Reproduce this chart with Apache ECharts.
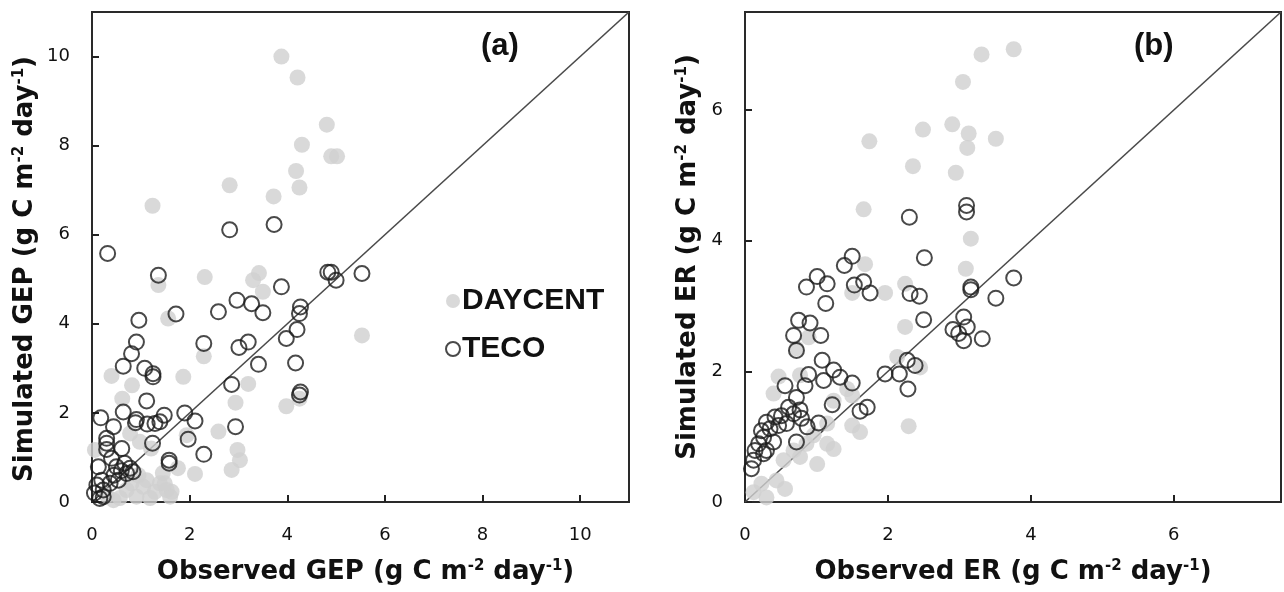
<!DOCTYPE html>
<html>
<head>
<meta charset="utf-8">
<script src="https://cdn.jsdelivr.net/npm/echarts@6/dist/echarts.min.js"></script>
<style>
  html, body { margin: 0; padding: 0; background: #fff; }
  #chart { width: 1284px; height: 592px; }
</style>
</head>
<body>
<div id="chart"></div>
<script>
// Panel (a): gross ecosystem production, observed vs simulated [obs, sim]
const gepDaycent = [
  [3.88,10.0],[4.21,9.53],[4.81,8.47],[4.30,8.02],[4.90,7.76],[5.02,7.76],[4.18,7.43],[4.25,7.06],
  [2.82,7.11],[3.72,6.86],[1.24,6.65],[2.31,5.05],[3.42,5.14],[3.30,4.98],[3.50,4.72],[1.36,4.87],
  [1.56,4.12],[2.29,3.27],[0.40,2.83],[1.87,2.81],[0.82,2.62],[3.20,2.65],[0.62,2.32],[2.94,2.23],
  [3.98,2.15],[4.25,2.32],[2.59,1.58],[2.98,1.17],[3.03,0.94],[2.86,0.72],[2.11,0.63],[1.76,0.76],
  [1.94,1.50],[1.21,1.20],[0.78,1.54],[0.98,1.35],[0.06,1.17],[5.53,3.74],[1.12,0.49],[1.39,0.42],
  [1.53,0.27],[1.60,0.12],[0.71,0.27],[0.91,0.12],[1.19,0.09],[0.57,0.09],[1.05,0.34],[1.29,0.23],
  [0.81,0.42],[0.44,0.04],[0.30,0.15],[0.95,0.60],[1.45,0.65],[1.63,0.23],[1.49,0.42]
];
const gepTeco = [
  [0.32,5.58],[2.82,6.11],[3.73,6.23],[1.36,5.09],[0.96,4.08],[1.72,4.22],[2.59,4.27],[2.97,4.53],
  [3.27,4.45],[3.50,4.25],[3.88,4.83],[4.83,5.16],[4.90,5.16],[5.00,4.98],[5.53,5.13],[4.27,4.38],
  [4.25,4.23],[4.20,3.87],[3.98,3.67],[4.17,3.12],[4.27,2.47],[4.25,2.40],[2.29,3.56],[3.01,3.47],
  [3.20,3.59],[3.41,3.09],[2.86,2.64],[1.90,2.00],[2.11,1.82],[2.94,1.69],[1.97,1.41],[2.29,1.07],
  [1.58,0.94],[1.58,0.87],[1.24,1.32],[1.48,1.95],[1.39,1.80],[1.29,1.76],[1.13,1.75],[0.91,1.85],
  [0.89,1.78],[0.64,2.02],[0.18,1.89],[1.12,2.27],[1.08,3.00],[1.25,2.88],[1.25,2.81],[0.64,3.05],
  [0.81,3.33],[0.91,3.59],[0.44,1.69],[0.30,1.43],[0.30,1.32],[0.30,1.18],[0.61,1.20],[0.13,0.79],
  [0.40,0.98],[0.50,0.79],[0.67,0.87],[0.78,0.76],[0.84,0.68],[0.71,0.64],[0.20,0.49],[0.37,0.42],
  [0.54,0.49],[0.10,0.38],[0.23,0.27],[0.16,0.08],[0.23,0.12],[0.05,0.20],[0.60,0.70],[0.45,0.60]
];

// Panel (b): ecosystem respiration, observed vs simulated [obs, sim]
const erDaycent = [
  [3.31,6.85],[3.05,6.43],[2.90,5.78],[3.13,5.64],[3.51,5.56],[2.49,5.70],[1.74,5.52],[3.11,5.42],
  [2.35,5.14],[2.95,5.04],[1.66,4.48],[3.16,4.03],[3.76,6.93],[1.68,3.64],[2.24,3.34],[1.96,3.20],
  [1.50,3.20],[3.09,3.57],[2.24,2.68],[0.89,2.52],[0.72,2.35],[2.13,2.22],[2.45,2.06],[0.47,1.92],
  [0.40,1.66],[0.77,1.94],[1.43,1.73],[1.50,1.63],[1.24,1.55],[2.29,1.16],[1.50,1.17],[1.61,1.07],
  [1.15,1.20],[0.96,1.02],[1.15,0.89],[1.24,0.81],[1.01,0.58],[0.77,0.69],[0.54,0.64],[0.44,0.33],
  [0.56,0.20],[0.23,0.28],[0.12,0.15],[0.30,0.07],[0.68,0.79],[0.86,0.89]
];
const erTeco = [
  [3.10,4.54],[3.10,4.44],[2.30,4.36],[1.50,3.76],[1.39,3.62],[2.51,3.74],[1.01,3.45],[1.15,3.34],
  [0.86,3.29],[1.13,3.04],[1.53,3.32],[1.66,3.37],[1.75,3.20],[2.31,3.19],[2.44,3.15],[3.16,3.29],
  [3.16,3.25],[3.51,3.12],[3.76,3.43],[2.50,2.79],[0.75,2.78],[0.91,2.74],[0.68,2.55],[1.06,2.55],
  [0.72,2.32],[2.91,2.64],[3.06,2.83],[3.11,2.68],[3.06,2.47],[3.32,2.50],[2.99,2.58],[1.08,2.17],
  [1.24,2.02],[1.33,1.91],[1.50,1.82],[1.10,1.86],[0.89,1.95],[0.84,1.78],[0.56,1.78],[1.96,1.96],
  [2.16,1.96],[2.27,2.17],[2.38,2.09],[2.28,1.73],[1.22,1.49],[1.61,1.39],[1.71,1.45],[0.72,1.60],
  [0.77,1.41],[0.61,1.45],[1.03,1.21],[0.87,1.15],[0.72,0.92],[0.51,1.32],[0.42,1.30],[0.30,1.22],
  [0.35,1.12],[0.47,1.17],[0.58,1.20],[0.23,1.09],[0.26,0.99],[0.40,0.92],[0.19,0.89],[0.30,0.79],
  [0.14,0.79],[0.12,0.64],[0.09,0.51],[0.26,0.74],[0.68,1.35],[0.79,1.28]
];

// Axis ranges and tick values
const gepMax = 11;
const erMax = 7.5;
const gepTicks = [0, 2, 4, 6, 8, 10];
const erTicks = [0, 2, 4, 6];

// 1:1 reference lines
const oneToOneA = [[0, 0], [gepMax, gepMax]];
const oneToOneB = [[0, 0], [erMax, erMax]];

const LABEL_FONT = '"Liberation Sans", Arial, sans-serif';
const TITLE_FONT = '"DejaVu Sans", sans-serif';
const TICK_FONT = '"DejaVu Sans", sans-serif';

function titleStyle(padding) {
  return {
    fontFamily: TITLE_FONT, fontWeight: 'bold', fontSize: 26, color: '#111', lineHeight: 30,
    padding: padding,
    rich: {
      sup: { fontFamily: TITLE_FONT, fontWeight: 'bold', fontSize: 15, color: '#111', lineHeight: 30, verticalAlign: 'top', padding: [2, 0, 0, 0] }
    }
  };
}

function valueAxis(gridIndex, max, ticks, name, gap, isY, margin, namePad) {
  return {
    type: 'value', gridIndex: gridIndex, min: 0, max: max,
    name: name, nameLocation: 'middle', nameGap: gap,
    nameRotate: isY ? 90 : 0,
    nameTextStyle: titleStyle(namePad),
    axisLine: { show: false },
    axisTick: { show: true, inside: true, length: 7, lineStyle: { color: '#222', width: 2 }, customValues: ticks },
    axisLabel: { show: true, margin: margin, fontFamily: TICK_FONT, fontSize: 18, color: '#111', customValues: ticks },
    splitLine: { show: false }
  };
}

const daycentStyle = { color: '#cfcfcf' };
const tecoStyle = { color: 'rgba(0,0,0,0)', borderColor: '#1c1c1c', borderWidth: 2 };

const chart = echarts.init(document.getElementById('chart'), null, { renderer: 'canvas' });
chart.setOption({
  backgroundColor: '#ffffff',
  animation: false,
  grid: [
    { left: 92, top: 12, width: 537, height: 490, show: true, borderColor: '#2a2a2a', borderWidth: 2, backgroundColor: 'transparent', outerBoundsMode: 'none' },
    { left: 745, top: 12, width: 536, height: 490, show: true, borderColor: '#2a2a2a', borderWidth: 2, backgroundColor: 'transparent', outerBoundsMode: 'none' }
  ],
  xAxis: [
    valueAxis(0, gepMax, gepTicks, 'Observed GEP (g C m{sup|-2} day{sup|-1})', 55, false, 24, [0, 0, 0, 10]),
    valueAxis(1, erMax, erTicks, 'Observed ER (g C m{sup|-2} day{sup|-1})', 55, false, 24, 0)
  ],
  yAxis: [
    valueAxis(0, gepMax, gepTicks, 'Simulated GEP (g C m{sup|-2} day{sup|-1})', 52, true, 22, [0, 24, 0, 0]),
    valueAxis(1, erMax, erTicks, 'Simulated ER (g C m{sup|-2} day{sup|-1})', 42, true, 22, 0)
  ],
  legend: {
    data: ['DAYCENT', 'TECO'],
    orient: 'vertical', left: 440, top: 281,
    itemWidth: 14, itemHeight: 14, itemGap: 18,
    selectedMode: false,
    textStyle: { fontFamily: LABEL_FONT, fontWeight: 'bold', fontSize: 30, color: '#111', lineHeight: 30, padding: [0, 0, 0, -3] }
  },
  graphic: [
    { type: 'text', left: 481, top: 31, style: { text: '(a)', fontFamily: LABEL_FONT, fontWeight: 'bold', fontSize: 31, fill: '#111' } },
    { type: 'text', left: 1134, top: 31, style: { text: '(b)', fontFamily: LABEL_FONT, fontWeight: 'bold', fontSize: 31, fill: '#111' } }
  ],
  series: [
    { type: 'line', xAxisIndex: 0, yAxisIndex: 0, data: oneToOneA, symbol: 'none', silent: true,
      lineStyle: { color: '#4a4a4a', width: 1.6 }, z: 1 },
    { type: 'line', xAxisIndex: 1, yAxisIndex: 1, data: oneToOneB, symbol: 'none', silent: true,
      lineStyle: { color: '#4a4a4a', width: 1.6 }, z: 1 },
    { name: 'DAYCENT', type: 'scatter', xAxisIndex: 0, yAxisIndex: 0, data: gepDaycent,
      symbol: 'circle', symbolSize: 16, itemStyle: daycentStyle, z: 2 },
    { name: 'DAYCENT', type: 'scatter', xAxisIndex: 1, yAxisIndex: 1, data: erDaycent,
      symbol: 'circle', symbolSize: 16, itemStyle: daycentStyle, z: 2 },
    { name: 'TECO', type: 'scatter', xAxisIndex: 0, yAxisIndex: 0, data: gepTeco,
      symbol: 'circle', symbolSize: 15, itemStyle: tecoStyle, z: 3 },
    { name: 'TECO', type: 'scatter', xAxisIndex: 1, yAxisIndex: 1, data: erTeco,
      symbol: 'circle', symbolSize: 15, itemStyle: tecoStyle, z: 3 }
  ]
});
</script>
</body>
</html>
